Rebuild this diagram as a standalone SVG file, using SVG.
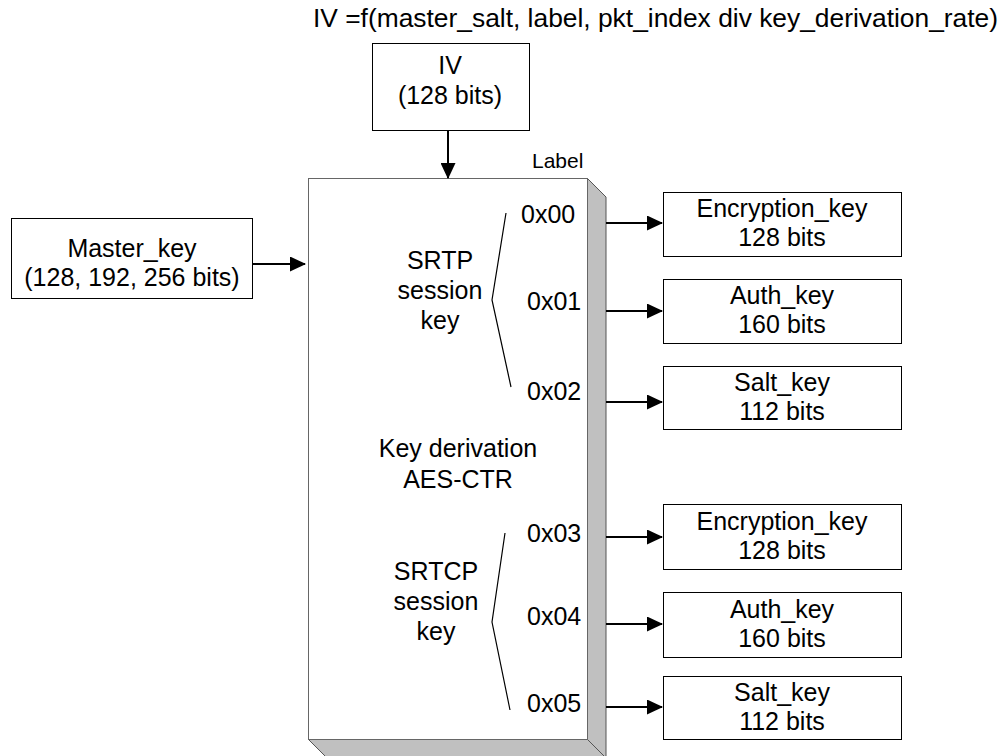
<svg xmlns="http://www.w3.org/2000/svg" width="1000" height="756" viewBox="0 0 1000 756">
  <style>
    text { font-family: "Liberation Sans", Arial, sans-serif; fill: #000; }
    .t { font-size: 25px; text-anchor: middle; }
    .l { font-size: 25px; }
    .box { fill: #fff; stroke: #000; stroke-width: 1; }
    .edge { stroke: #000; stroke-width: 2; fill: none; }
    .brace { stroke: #000; stroke-width: 1.2; fill: none; }
    .face { fill: #c0c0c0; stroke: #555; stroke-width: 1; }
  </style>
  <defs>
    <marker id="arrow" markerWidth="16" markerHeight="15" refX="15" refY="7.5" orient="auto" markerUnits="userSpaceOnUse">
      <path d="M0,0 L16,7.5 L0,15 Z" fill="#000"/>
    </marker>
  </defs>

  <rect width="1000" height="756" fill="#fff"/>

  <!-- IV formula caption -->
  <text class="l" x="313" y="27" textLength="685" lengthAdjust="spacingAndGlyphs">IV =f(master_salt, label, pkt_index div key_derivation_rate)</text>

  <!-- IV input -->
  <g id="iv">
    <rect class="box" x="372.5" y="43.5" width="157" height="87"/>
    <text class="t" x="450" y="74">IV</text>
    <text class="t" x="450" y="104">(128 bits)</text>
  </g>

  <!-- master key input -->
  <g id="master-key">
    <rect class="box" x="11.5" y="218.5" width="241" height="80"/>
    <text class="t" x="132" y="257">Master_key</text>
    <text class="t" x="132" y="286">(128, 192, 256 bits)</text>
  </g>

  <!-- key derivation block (raised 3D box) -->
  <g id="kdf">
    <polygon class="face" points="587,178 606,197 606,758 587,739"/>
    <polygon class="face" points="308,739 587,739 606,758 327,758"/>
    <rect x="308.5" y="178.5" width="279" height="561" fill="#fff" stroke="#666" stroke-width="1"/>
    <text x="532" y="168" font-size="21">Label</text>
    <text class="t" x="440" y="269">SRTP</text>
    <text class="t" x="440" y="299">session</text>
    <text class="t" x="440" y="329">key</text>
    <text class="t" x="458" y="457">Key derivation</text>
    <text class="t" x="458" y="488">AES-CTR</text>
    <text class="t" x="436" y="580">SRTCP</text>
    <text class="t" x="436" y="610">session</text>
    <text class="t" x="436" y="640">key</text>
    <polyline class="brace" points="506,213 492,300 511,387"/>
    <polyline class="brace" points="505,533 492,622 510,710"/>
    <text class="l" x="521" y="223">0x00</text>
    <text class="l" x="527" y="310">0x01</text>
    <text class="l" x="527" y="400">0x02</text>
    <text class="l" x="527" y="542">0x03</text>
    <text class="l" x="527" y="625">0x04</text>
    <text class="l" x="527" y="712">0x05</text>
  </g>

  <!-- derived keys -->
  <g id="srtp-enc">
    <rect class="box" x="663.5" y="192.5" width="238" height="64"/>
    <text class="t" x="782" y="217">Encryption_key</text>
    <text class="t" x="782" y="246">128 bits</text>
  </g>
  <g id="srtp-auth">
    <rect class="box" x="663.5" y="279.5" width="238" height="64"/>
    <text class="t" x="782" y="304">Auth_key</text>
    <text class="t" x="782" y="333">160 bits</text>
  </g>
  <g id="srtp-salt">
    <rect class="box" x="663.5" y="366.5" width="238" height="63"/>
    <text class="t" x="782" y="391">Salt_key</text>
    <text class="t" x="782" y="420">112 bits</text>
  </g>
  <g id="srtcp-enc">
    <rect class="box" x="663.5" y="504.5" width="238" height="65"/>
    <text class="t" x="782" y="530">Encryption_key</text>
    <text class="t" x="782" y="559">128 bits</text>
  </g>
  <g id="srtcp-auth">
    <rect class="box" x="663.5" y="592.5" width="238" height="65"/>
    <text class="t" x="782" y="618">Auth_key</text>
    <text class="t" x="782" y="647">160 bits</text>
  </g>
  <g id="srtcp-salt">
    <rect class="box" x="663.5" y="676.5" width="238" height="63"/>
    <text class="t" x="782" y="701">Salt_key</text>
    <text class="t" x="782" y="730">112 bits</text>
  </g>

  <!-- connectors -->
  <g id="connectors">
    <line class="edge" x1="448" y1="131" x2="448" y2="178" marker-end="url(#arrow)"/>
    <line class="edge" x1="253" y1="264" x2="305" y2="264" marker-end="url(#arrow)"/>
    <line class="edge" x1="606" y1="223" x2="662" y2="223" marker-end="url(#arrow)"/>
    <line class="edge" x1="606" y1="311" x2="662" y2="311" marker-end="url(#arrow)"/>
    <line class="edge" x1="606" y1="402" x2="662" y2="402" marker-end="url(#arrow)"/>
    <line class="edge" x1="606" y1="537" x2="662" y2="537" marker-end="url(#arrow)"/>
    <line class="edge" x1="606" y1="624" x2="662" y2="624" marker-end="url(#arrow)"/>
    <line class="edge" x1="606" y1="707" x2="662" y2="707" marker-end="url(#arrow)"/>
  </g>
</svg>
